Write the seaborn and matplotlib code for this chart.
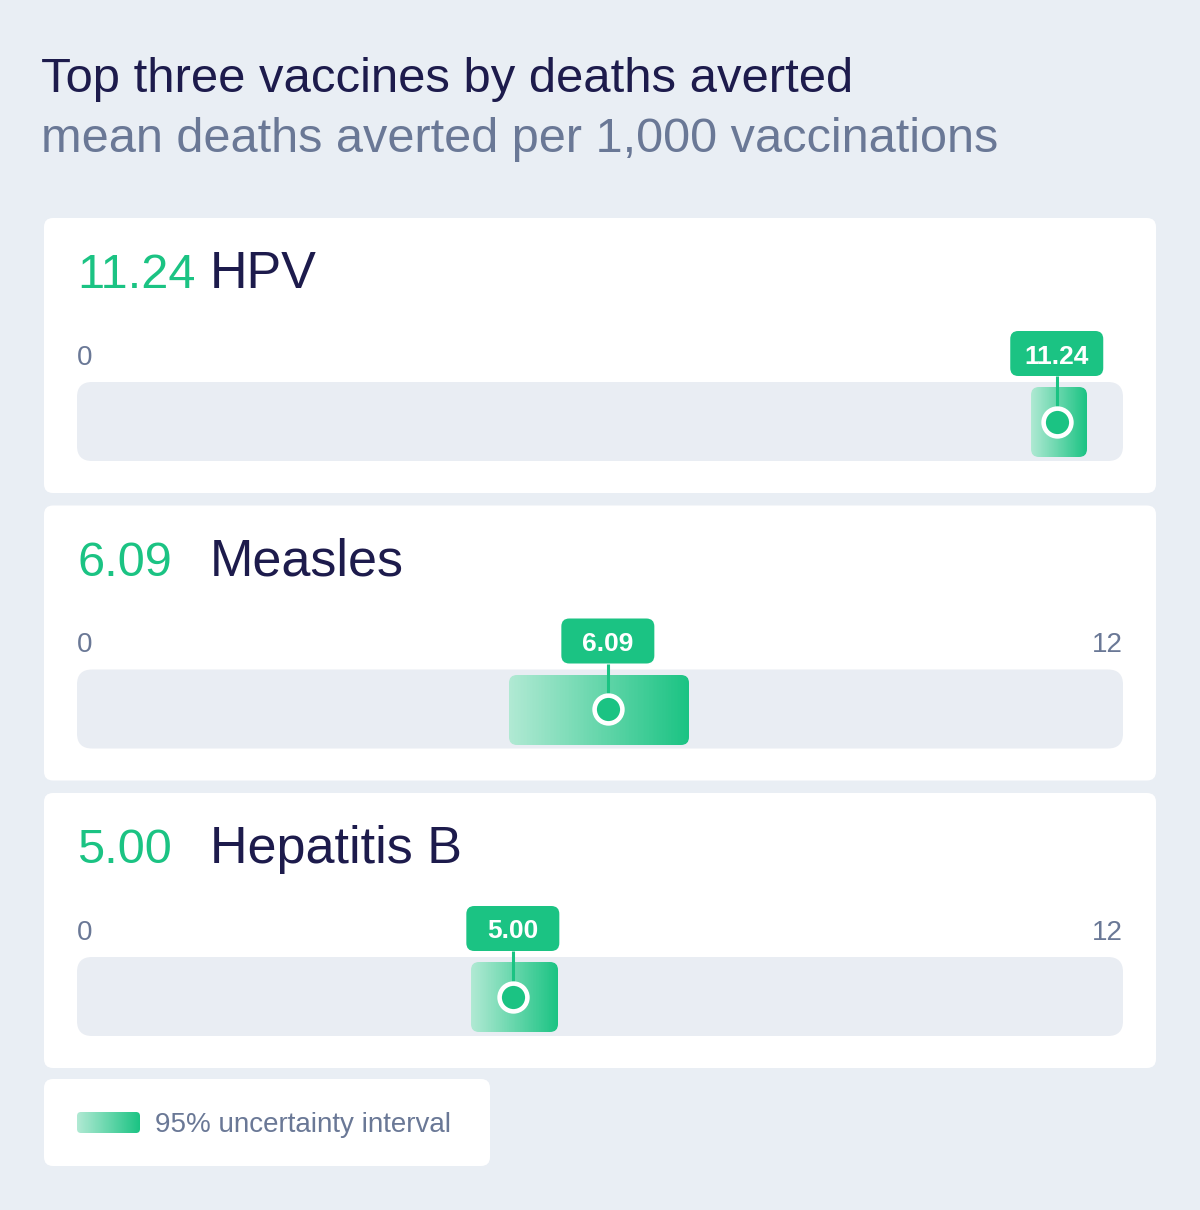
import numpy as np
import pandas as pd
import matplotlib.pyplot as plt
import seaborn as sns
from matplotlib.patches import FancyBboxPatch
from matplotlib.colors import LinearSegmentedColormap

# Data
vaccines = ["HPV", "Measles", "Hepatitis B"]
mean_averted = [11.24, 6.09, 5.00]
lower_ui = [10.94, 4.96, 4.52]
upper_ui = [11.59, 7.02, 5.52]
axis_min, axis_max = 0, 12

title = "Top three vaccines by deaths averted"
subtitle = "mean deaths averted per 1,000 vaccinations"
legend_label = "95% uncertainty interval"

# Colours
BG = "#E9EEF4"
TRACK = "#E9EDF3"
GREEN = "#1BC383"
GREEN_LIGHT = "#B0E9D3"
NAVY = "#1D1B4C"
SLATE = "#6A7896"

sns.set_theme(style="white")
plt.rcParams["font.family"] = ["Liberation Sans", "DejaVu Sans"]

W, H = 1200, 1210
fig = plt.figure(figsize=(W / 100, H / 100), dpi=100)
fig.patch.set_facecolor(BG)

# background axes in pixel units
bg = fig.add_axes([0, 0, 1, 1])
bg.set_xlim(0, W)
bg.set_ylim(H, 0)
bg.axis("off")

grad = LinearSegmentedColormap.from_list("ui", [GREEN_LIGHT, GREEN])


def gradient_box(ax, x0, x1, y0, y1, radius, zorder=2):
    # horizontal light->green ramp clipped to a rounded box
    box = FancyBboxPatch((x0, min(y0, y1)), x1 - x0, abs(y1 - y0),
                         boxstyle=f"round,pad=0,rounding_size={radius}",
                         fc="none", ec="none", zorder=zorder)
    ax.add_patch(box)
    edges = np.linspace(x0, x1, 121)
    mesh = ax.pcolormesh(edges, [y0, y1], np.linspace(0, 1, 120).reshape(1, -1),
                         cmap=grad, vmin=0, vmax=1, shading="flat",
                         zorder=zorder, antialiased=False, linewidth=0)
    mesh.set_clip_path(box)
    return mesh


bg.text(41, 92, title, color=NAVY, fontsize=35.3, va="baseline", ha="left")
bg.text(41, 152, subtitle, color=SLATE, fontsize=35.0, va="baseline", ha="left")

df = pd.DataFrame({"vaccine": vaccines, "mean": mean_averted,
                   "lo": lower_ui, "hi": upper_ui})

track_x0, track_w = 77, 1046
xpp = (axis_max - axis_min) / track_w  # data units per pixel


def py(v):
    # vertical pixel offset -> data units (same scale as x, so aspect is 1:1)
    return v * xpp


panel_h = 275

for i, row in df.iterrows():
    top = 218 + i * 287.5
    bg.add_patch(FancyBboxPatch((44, top), 1112, panel_h,
                                boxstyle="round,pad=0,rounding_size=9",
                                fc="white", ec="none", zorder=1))
    bg.text(77, top + 70, f"{row['mean']:.2f}", color=GREEN, fontsize=35,
            va="baseline", ha="left", zorder=2)
    bg.text(210, top + 70, row["vaccine"], color=NAVY, fontsize=37.5,
            va="baseline", ha="left", zorder=2)

    ax = fig.add_axes([track_x0 / W, 1 - (top + 250) / H, track_w / W, 145 / H])
    ax.axis("off")

    ax.add_patch(FancyBboxPatch((axis_min, py(164)), axis_max - axis_min, py(79),
                                boxstyle=f"round,pad=0,rounding_size={py(15)}",
                                fc=TRACK, ec="none", zorder=1))

    gradient_box(ax, row["lo"], row["hi"], py(169), py(239), py(8))

    ax.plot([row["mean"], row["mean"]], [py(158), py(204)], color=GREEN,
            lw=2.2, zorder=3, solid_capstyle="butt")
    sns.scatterplot(x=[row["mean"]], y=[py(203.5)], ax=ax, s=400, color=GREEN,
                    edgecolor="white", linewidth=3.3, zorder=4, legend=False,
                    clip_on=False)

    ax.add_patch(FancyBboxPatch((row["mean"] - py(46.5), py(113)), py(93), py(45),
                                boxstyle=f"round,pad=0,rounding_size={py(8)}",
                                fc=GREEN, ec="none", zorder=5, clip_on=False))
    ax.text(row["mean"], py(136), f"{row['mean']:.2f}", color="white",
            fontsize=19, fontweight="bold", ha="center", va="center_baseline",
            zorder=6)

    ax.text(axis_min, py(147), f"{axis_min}", color=SLATE, fontsize=20,
            ha="left", va="baseline")
    # max tick hidden when the value label would sit on top of it
    if row["mean"] + py(70) < axis_max - py(30):
        ax.text(axis_max, py(147), f"{axis_max}", color=SLATE, fontsize=20,
                ha="right", va="baseline")

    ax.set_xlim(axis_min, axis_max)
    ax.set_ylim(py(250), py(105))

# legend card
bg.add_patch(FancyBboxPatch((44, 1079), 446, 87,
                            boxstyle="round,pad=0,rounding_size=9",
                            fc="white", ec="none", zorder=1))
gradient_box(bg, 77, 140, 1112, 1133, 4)
bg.text(155, 1132, legend_label, color=SLATE, fontsize=20, va="baseline",
        ha="left", zorder=2)
bg.set_xlim(0, W)
bg.set_ylim(H, 0)

fig.savefig("out.png", dpi=100, facecolor=BG)
